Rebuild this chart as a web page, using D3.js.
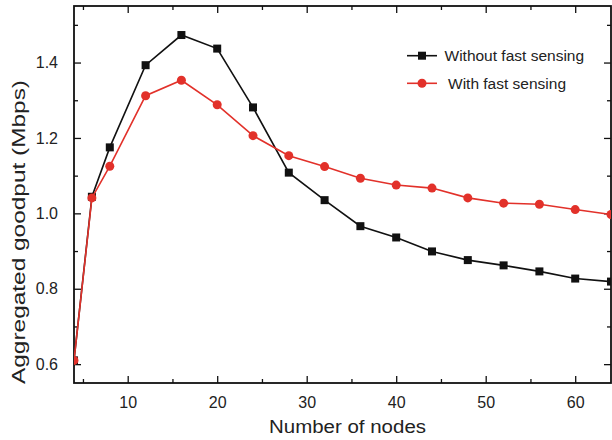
<!DOCTYPE html>
<html>
<head>
<meta charset="utf-8">
<script src="https://cdn.jsdelivr.net/npm/d3@7"></script>
<style>
  body { margin: 0; background: #fff; }
  text { font-family: "Liberation Sans", Arial, sans-serif; fill: #222; }
</style>
</head>
<body>
<div id="chart"></div>
<script>
// node counts on the x axis
const nodes = [4, 6, 8, 12, 16, 20, 24, 28, 32, 36, 40, 44, 48, 52, 56, 60, 64];
// aggregated goodput (Mbps)
const withoutFast = [0.61, 1.044, 1.175, 1.393, 1.473, 1.437, 1.281, 1.108, 1.035, 0.966, 0.936, 0.899, 0.876, 0.862, 0.846, 0.827, 0.819];
const withFast = [0.61, 1.041, 1.125, 1.312, 1.353, 1.288, 1.206, 1.153, 1.124, 1.093, 1.075, 1.067, 1.041, 1.027, 1.024, 1.010, 0.997];
const seriesNames = ["Without fast sensing", "With fast sensing"];
const xTicks = [10, 20, 30, 40, 50, 60];
const xMinor = [5, 15, 25, 35, 45, 55];
const yTicks = [0.6, 0.8, 1.0, 1.2, 1.4];
const yMinor = [0.7, 0.9, 1.1, 1.3, 1.5];

const W = 612, H = 440;
const margin = {top: 6, right: 1, bottom: 57, left: 74};
const w = W - margin.left - margin.right;
const h = H - margin.top - margin.bottom;

const svg = d3.select("#chart").append("svg")
    .attr("width", W)
    .attr("height", H);

const g = svg.append("g")
    .attr("transform", "translate(" + margin.left + "," + margin.top + ")");

const x = d3.scaleLinear().domain([4, 64]).range([0, w]);
const y = d3.scaleLinear().domain([0.55, 1.55]).range([h, 0]);

// clip so the edge markers get cut like in the original
g.append("clipPath").attr("id", "plotclip")
    .append("rect").attr("x", 0).attr("y", 0).attr("width", w).attr("height", h);

// axes, ticks pointing inward on all sides
function drawAxis(axis, transform, labels) {
    const a = g.append("g").attr("transform", transform).call(axis);
    a.select(".domain").remove();
    a.selectAll("line").attr("stroke", "#111").attr("stroke-width", 1.3);
    if (!labels) a.selectAll("text").remove();
    return a;
}

const fmt = d3.format(".1f");
const bx = drawAxis(d3.axisBottom(x).tickValues(xTicks).tickSize(-7).tickPadding(14), "translate(0," + h + ")", true);
bx.selectAll("text").attr("font-size", 16).attr("fill", "#222");
drawAxis(d3.axisBottom(x).tickValues(xMinor).tickSize(-4), "translate(0," + h + ")", false);
drawAxis(d3.axisTop(x).tickValues(xTicks).tickSize(-7), "translate(0,0)", false);
drawAxis(d3.axisTop(x).tickValues(xMinor).tickSize(-4), "translate(0,0)", false);

const ly = drawAxis(d3.axisLeft(y).tickValues(yTicks).tickFormat(fmt).tickSize(-7).tickPadding(16), "translate(0,0)", true);
ly.selectAll("text").attr("font-size", 16).attr("fill", "#222");
drawAxis(d3.axisLeft(y).tickValues(yMinor).tickSize(-4), "translate(0,0)", false);
drawAxis(d3.axisRight(y).tickValues(yTicks).tickSize(-7), "translate(" + w + ",0)", false);
drawAxis(d3.axisRight(y).tickValues(yMinor).tickSize(-4), "translate(" + w + ",0)", false);

// frame
g.append("rect")
    .attr("x", 0).attr("y", 0)
    .attr("width", w).attr("height", h)
    .attr("fill", "none")
    .attr("stroke", "#111")
    .attr("stroke-width", 1.8);

// axis titles
svg.append("text")
    .attr("x", margin.left + w / 2 + 5)
    .attr("y", 433)
    .attr("text-anchor", "middle")
    .attr("font-size", 18)
    .attr("textLength", 157)
    .attr("lengthAdjust", "spacingAndGlyphs")
    .text("Number of nodes");

svg.append("text")
    .attr("transform", "translate(25," + 232 + ") rotate(-90)")
    .attr("text-anchor", "middle")
    .attr("font-size", 18)
    .attr("textLength", 304)
    .attr("lengthAdjust", "spacingAndGlyphs")
    .text("Aggregated goodput (Mbps)");

// series
const colors = ["#111111", "#e2312a"];
const series = [withoutFast, withFast];
const plot = g.append("g").attr("clip-path", "url(#plotclip)");

const line = d3.line()
    .x((d, i) => x(nodes[i]))
    .y(d => y(d));

series.forEach((vals, k) => {
    plot.append("path")
        .datum(vals)
        .attr("d", line)
        .attr("fill", "none")
        .attr("stroke", colors[k])
        .attr("stroke-width", 1.6);
    if (k === 0) {
        plot.selectAll(".sq").data(vals).enter().append("rect")
            .attr("class", "sq")
            .attr("x", (d, i) => x(nodes[i]) - 4)
            .attr("y", d => y(d) - 4)
            .attr("width", 8).attr("height", 8)
            .attr("fill", colors[k]);
    } else {
        plot.selectAll(".dot").data(vals).enter().append("circle")
            .attr("class", "dot")
            .attr("cx", (d, i) => x(nodes[i]))
            .attr("cy", d => y(d))
            .attr("r", 4.5)
            .attr("fill", colors[k]);
    }
});

// legend
const legend = svg.append("g");
seriesNames.forEach((name, k) => {
    const ly0 = k === 0 ? 55.7 : 83.3;
    const item = legend.append("g");
    item.append("line")
        .attr("x1", 407).attr("x2", 437)
        .attr("y1", ly0).attr("y2", ly0)
        .attr("stroke", colors[k]).attr("stroke-width", 1.6);
    if (k === 0) {
        item.append("rect").attr("x", 418).attr("y", ly0 - 4)
            .attr("width", 8).attr("height", 8).attr("fill", colors[k]);
    } else {
        item.append("circle").attr("cx", 422).attr("cy", ly0).attr("r", 4.5)
            .attr("fill", colors[k]);
    }
    item.append("text")
        .attr("x", k === 0 ? 444.5 : 448)
        .attr("y", ly0 + 5.5)
        .attr("font-size", 15.5)
        .text(name);
});
</script>
</body>
</html>
